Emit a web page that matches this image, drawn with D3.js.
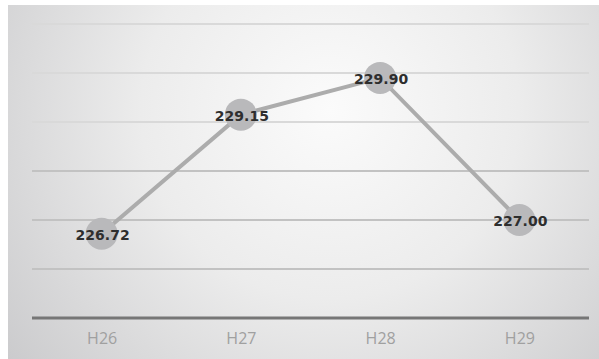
<!DOCTYPE html>
<html><head><meta charset="utf-8">
<script src="https://cdn.jsdelivr.net/npm/d3@7/dist/d3.min.js"></script>
<style>html,body{margin:0;padding:0;background:#fff;}svg{display:block;}</style>
</head><body>
<script>
const categories = ["H26", "H27", "H28", "H29"];
const values = [226.72, 229.15, 229.90, 227.00];
const labels = ["226.72", "229.15", "229.90", "227.00"];
const yTicks = [225, 226, 227, 228, 229, 230, 231];

const W = 599, H = 359;
const svg = d3.select("body").append("svg").attr("width", W).attr("height", H);
const defs = svg.append("defs");
const grad = defs.append("radialGradient").attr("id", "bg")
  .attr("gradientUnits", "userSpaceOnUse")
  .attr("cx", 330).attr("cy", 110).attr("r", 420);
grad.append("stop").attr("offset", "0%").attr("stop-color", "#fbfbfb");
grad.append("stop").attr("offset", "45%").attr("stop-color", "#ececec");
grad.append("stop").attr("offset", "100%").attr("stop-color", "#c9c9cb");
svg.append("rect").attr("x", 8).attr("y", 5).attr("width", W - 8).attr("height", H - 5).attr("fill", "url(#bg)");

const left = 32, right = 589;
const x = d3.scalePoint().domain(categories).range([left, right]).padding(0.5);
const y = d3.scaleLinear().domain([225, 231]).range([318, 24]);

// grid
svg.append("g").selectAll("line").data(yTicks.filter(t => t !== 225)).join("line")
  .attr("x1", left).attr("x2", right)
  .attr("y1", d => y(d)).attr("y2", d => y(d))
  .attr("stroke", d => d >= 229 ? "#d9d9d9" : "#c2c2c2").attr("stroke-width", 2);

// x axis
const xAxis = svg.append("g").attr("transform", `translate(0,${y(225)})`)
  .call(d3.axisBottom(x).tickSize(0).tickPadding(15));
xAxis.select(".domain").attr("stroke", "#767676").attr("stroke-width", 3)
  .attr("d", `M${left},0H${right}`);
xAxis.selectAll("text").attr("fill", "#a0a0a0").attr("font-size", 16)
  .attr("font-family", "'Open Sans', 'DejaVu Sans', sans-serif");

const pts = categories.map((c, i) => ({c, v: values[i], l: labels[i]}));
svg.append("path").datum(pts)
  .attr("d", d3.line().x(d => x(d.c)).y(d => y(d.v)))
  .attr("fill", "none").attr("stroke", "#acacac").attr("stroke-width", 4);

svg.append("g").selectAll("circle").data(pts).join("circle")
  .attr("cx", d => x(d.c)).attr("cy", d => y(d.v)).attr("r", 16)
  .attr("fill", "#b9b9bb");

svg.append("g").selectAll("text").data(pts).join("text")
  .attr("x", d => x(d.c) + 1).attr("y", d => y(d.v) + 2)
  .attr("text-anchor", "middle").attr("dominant-baseline", "middle")
  .attr("font-size", 14).attr("font-weight", "bold").attr("fill", "#2e2e2e")
  .attr("font-family", "'DejaVu Sans', sans-serif")
  .text(d => d.l);
</script>
</body></html>
